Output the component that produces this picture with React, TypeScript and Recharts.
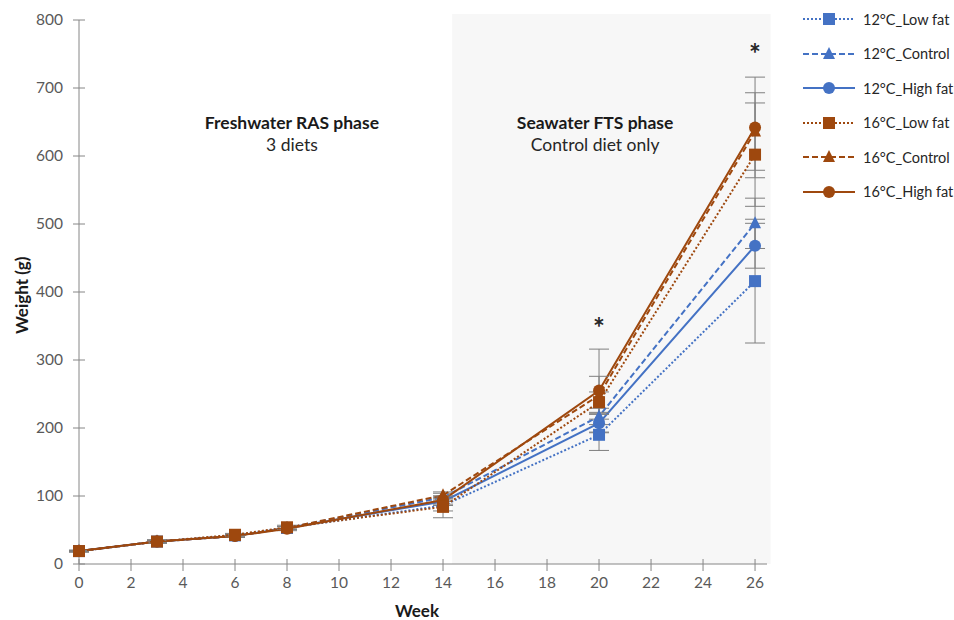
import React from 'react';
import {
  LineChart,
  Line,
  XAxis,
  YAxis,
  ErrorBar,
  ReferenceArea,
  ReferenceDot,
} from 'recharts';

const weeks = [0, 3, 6, 8, 14, 20, 26];
const xTicks = [0, 2, 4, 6, 8, 10, 12, 14, 16, 18, 20, 22, 24, 26];
const yTicks = [0, 100, 200, 300, 400, 500, 600, 700, 800];

const lf12 = [19, 33, 42, 53, 86, 190, 416];
const c12 = [19, 33, 41, 53, 98, 217, 501];
const hf12 = [19, 33, 41, 53, 92, 207, 468];
const lf16 = [19, 33, 43, 54, 84, 238, 602];
const c16 = [19, 33, 41, 53, 101, 248, 636];
const hf16 = [19, 33, 41, 52, 94, 255, 642];

const lf12Err = [1, 2, 2, 2, 8, 23, 91];
const c12Err = [1, 2, 2, 2, 6, 12, 37];
const hf12Err = [1, 2, 2, 2, 6, 14, 33];
const lf16Err = [1, 2, 2, 3, 16, 15, 76];
const c16Err = [1, 2, 2, 2, 5, 28, 57];
const hf16Err = [1, 2, 2, 3, 6, 61, 74];

const BLUE = '#4472C4';
const BROWN = '#9E480E';
const FONT = 'Lato, "Open Sans", sans-serif';

const data = weeks.map((w, i) => ({
  week: w,
  lf12: lf12[i], lf12Err: lf12Err[i],
  c12: c12[i], c12Err: c12Err[i],
  hf12: hf12[i], hf12Err: hf12Err[i],
  lf16: lf16[i], lf16Err: lf16Err[i],
  c16: c16[i], c16Err: c16Err[i],
  hf16: hf16[i], hf16Err: hf16Err[i],
}));

type Shape = 'square' | 'triangle' | 'circle';

const series: { key: string; name: string; color: string; dash?: string; shape: Shape }[] = [
  { key: 'hf12', name: '12°C_High fat', color: BLUE, shape: 'circle' },
  { key: 'c12', name: '12°C_Control', color: BLUE, dash: '6 3', shape: 'triangle' },
  { key: 'lf12', name: '12°C_Low fat', color: BLUE, dash: '2 2', shape: 'square' },
  { key: 'hf16', name: '16°C_High fat', color: BROWN, shape: 'circle' },
  { key: 'c16', name: '16°C_Control', color: BROWN, dash: '6 3', shape: 'triangle' },
  { key: 'lf16', name: '16°C_Low fat', color: BROWN, dash: '2 2', shape: 'square' },
];

const legendOrder = ['lf12', 'c12', 'hf12', 'lf16', 'c16', 'hf16'];

const Marker = ({ shape, cx, cy, color }: { shape: Shape; cx: number; cy: number; color: string }) => {
  if (shape === 'square') return <rect x={cx - 6} y={cy - 6} width={12} height={12} fill={color} />;
  if (shape === 'triangle')
    return <polygon points={`${cx},${cy - 7} ${cx + 6},${cy + 5} ${cx - 6},${cy + 5}`} fill={color} />;
  return <circle cx={cx} cy={cy} r={6} fill={color} />;
};

const YTick = (props: any) => {
  const { x, y, payload } = props;
  return (
    <g>
      <line x1={x + 10} x2={x + 22} y1={y} y2={y} stroke="#868686" />
      <text x={x} y={y} dy={5} textAnchor="end" fill="#595959" fontSize={15.5} fontFamily={FONT}>
        {payload.value}
      </text>
    </g>
  );
};

const XTick = (props: any) => {
  const { x, y, payload } = props;
  return (
    <g>
      <line x1={x} x2={x} y1={y - 13} y2={y - 1} stroke="#868686" />
      <text x={x} y={y} dy={16} textAnchor="middle" fill="#595959" fontSize={15.5} fontFamily={FONT}>
        {payload.value}
      </text>
    </g>
  );
};

const PhaseLabel = (title: string, sub: string) => (props: any) => {
  const { viewBox } = props;
  const cx = viewBox.x + (viewBox.width || 0) / 2;
  const cy = viewBox.y + (viewBox.height || 0) / 2;
  return (
    <g fontFamily={FONT}>
      <text x={cx} y={cy} textAnchor="middle" fontSize={17.5} fontWeight="bold" fill="#1a1a1a">
        {title}
      </text>
      <text x={cx} y={cy + 22} textAnchor="middle" fontSize={17.5} fill="#262626">
        {sub}
      </text>
    </g>
  );
};

const Legend = () => (
  <div style={{ position: 'absolute', left: 800, top: 2, fontFamily: FONT, fontSize: 14.5, color: '#262626', whiteSpace: 'nowrap' }}>
    {legendOrder.map((k) => {
      const s = series.find((x) => x.key === k)!;
      return (
        <div key={k} style={{ display: 'flex', alignItems: 'center', height: 34.5 }}>
          <svg width={60} height={16}>
            <line x1={3} x2={55} y1={8} y2={8} stroke={s.color} strokeWidth={2} strokeDasharray={s.dash} />
            <Marker shape={s.shape} cx={29} cy={8} color={s.color} />
          </svg>
          <span style={{ marginLeft: 3 }}>{s.name}</span>
        </div>
      );
    })}
  </div>
);

export default function App() {
  return (
    <div style={{ position: 'absolute', left: 0, top: 0, width: 954, height: 620, background: '#fff' }}>
      <LineChart width={954} height={620} data={data} margin={{ top: 20, right: 187, bottom: 0, left: 29 }}>
        <ReferenceArea
          x1={14.35}
          x2={26.6}
          y1={0}
          y2={809}
          fill="#F7F7F7"
          fillOpacity={1}
          stroke="none"
          ifOverflow="visible"
        />
        <XAxis
          type="number"
          dataKey="week"
          domain={[0, 26.46]}
          ticks={xTicks}
          height={56}
          stroke="#868686"
          tickLine={false}
          tick={<XTick />}
          label={{ value: 'Week', position: 'insideBottom', offset: 3, dx: -6, fontWeight: 'bold', fontSize: 17, fill: '#1a1a1a', fontFamily: FONT }}
        />
        <YAxis
          type="number"
          domain={[0, 800]}
          ticks={yTicks}
          width={50}
          stroke="#868686"
          tickLine={false}
          tickSize={6}
          tickMargin={10}
          tick={<YTick />}
          label={{ value: 'Weight (g)', angle: -90, position: 'insideLeft', offset: -7, dy: 42, fontWeight: 'bold', fontSize: 17, fill: '#1a1a1a', fontFamily: FONT }}
        />
        {series.map((s) => (
          <Line
            key={s.key}
            dataKey={s.key}
            name={s.name}
            type="linear"
            stroke={s.color}
            strokeWidth={2}
            strokeDasharray={s.dash}
            isAnimationActive={false}
            dot={(p: any) => <Marker key={`${s.key}-${p.index}`} shape={s.shape} cx={p.cx} cy={p.cy} color={s.color} />}
            activeDot={false}
          >
            <ErrorBar dataKey={`${s.key}Err`} width={10} stroke="#7F7F7F" strokeWidth={1} direction="y" />
          </Line>
        ))}
        <ReferenceDot x={8.19} y={640} r={0} ifOverflow="visible" label={PhaseLabel('Freshwater RAS phase', '3 diets')} />
        <ReferenceDot x={19.85} y={640} r={0} ifOverflow="visible" label={PhaseLabel('Seawater FTS phase', 'Control diet only')} />
        <ReferenceDot
          x={20}
          y={359}
          r={0}
          ifOverflow="visible"
          label={{ value: '*', position: 'center', dy: 8, fontSize: 28, fontWeight: 'bold', fill: '#262626', fontFamily: FONT }}
        />
        <ReferenceDot
          x={26}
          y={762}
          r={0}
          ifOverflow="visible"
          label={{ value: '*', position: 'center', dy: 8, fontSize: 28, fontWeight: 'bold', fill: '#262626', fontFamily: FONT }}
        />
      </LineChart>
      <Legend />
    </div>
  );
}
